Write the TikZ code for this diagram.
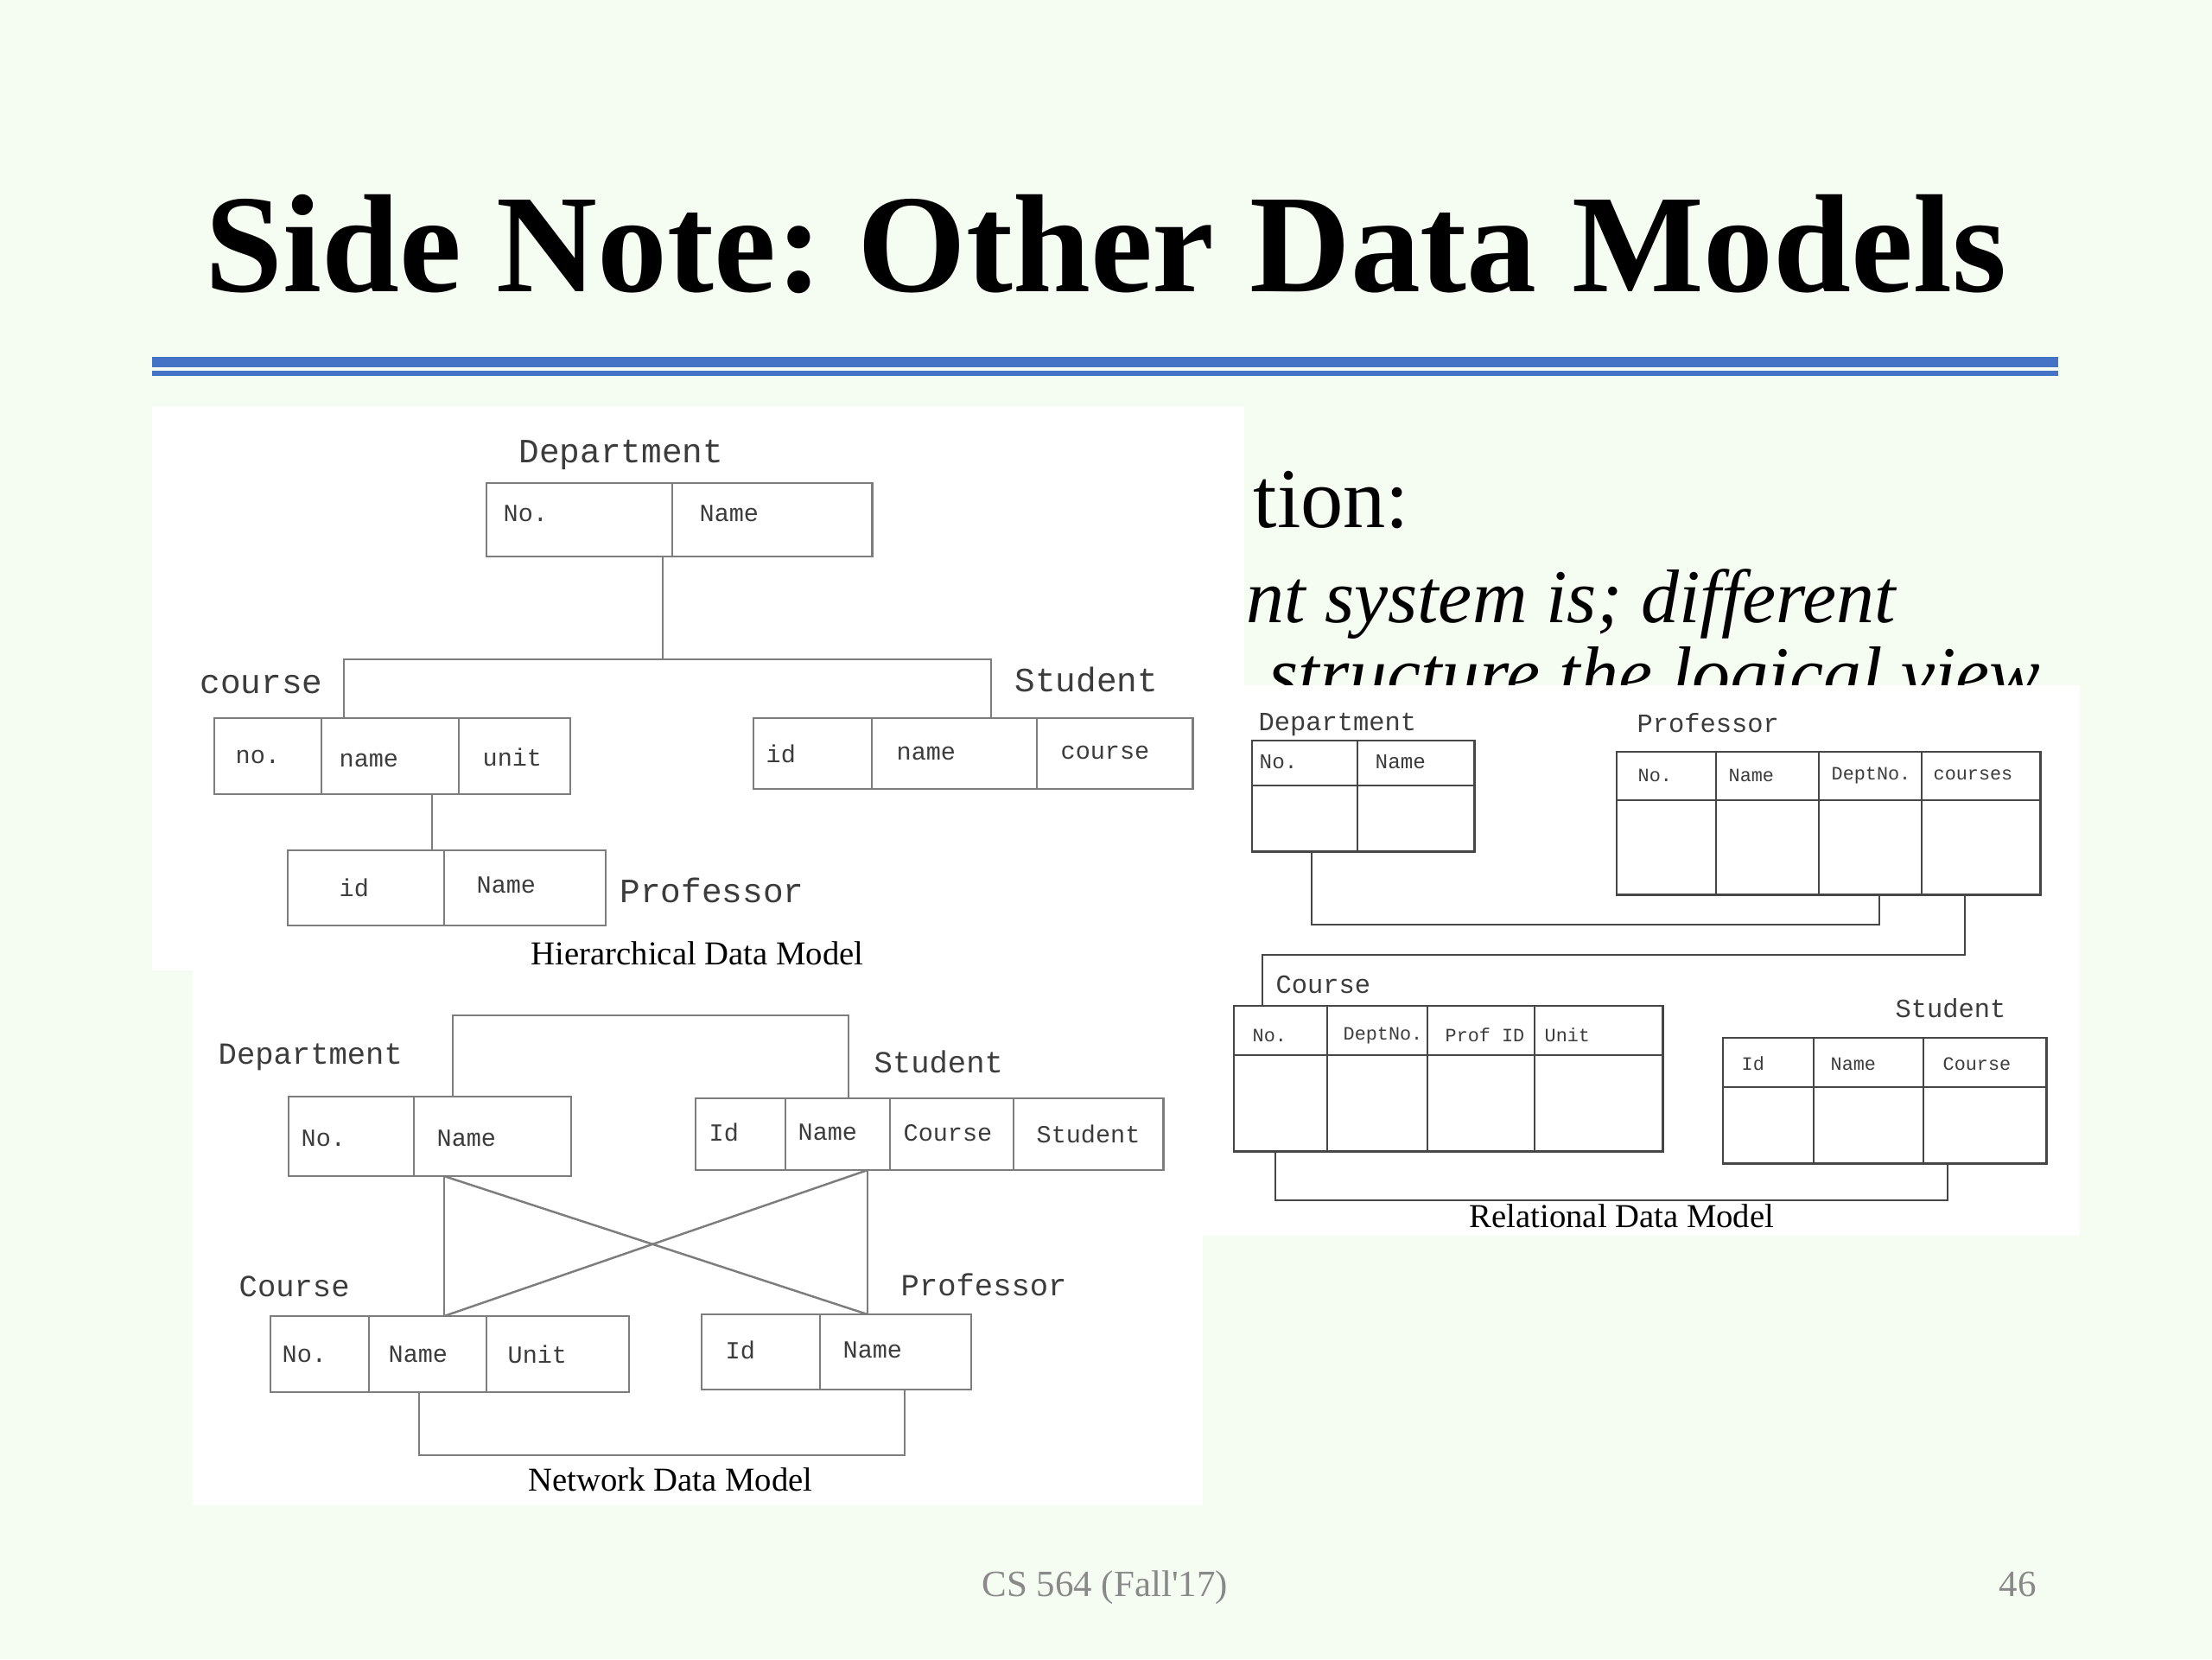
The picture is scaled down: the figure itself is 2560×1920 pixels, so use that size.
\documentclass[tikz,border=0pt]{standalone}
\usepackage{fontspec}
\setmainfont{Liberation Serif}
\newfontfamily\courier{Liberation Mono}
\usepackage{tikz}
\usetikzlibrary{positioning}
\frenchspacing

\definecolor{slidebg}{RGB}{245,252,241}
\definecolor{ruleblue}{RGB}{68,114,196}
\definecolor{boxgray}{RGB}{125,125,125}
\definecolor{reldark}{RGB}{70,70,70}
\definecolor{inkgray}{RGB}{60,60,60}
\definecolor{footgray}{RGB}{137,137,137}

\tikzset{
  tbl/.style={draw=boxgray, line width=0.7pt, rectangle, inner sep=0pt, outer sep=0pt, anchor=north west},
  rtbl/.style={tbl, draw=reldark, line width=0.8pt},
  conn/.style={draw=boxgray, line width=0.7pt},
  rconn/.style={draw=reldark, line width=0.8pt},
  txt/.style={inner sep=0pt, text=inkgray},
  hlbl/.style={txt, anchor=base west, font=\courier\fontsize{11.2}{13}\selectfont},
  hcell/.style={txt, anchor=west, font=\courier\fontsize{8.1}{10}\selectfont},
  nlbl/.style={hlbl, font=\courier\fontsize{10.1}{12}\selectfont},
  rlbl/.style={hlbl, font=\courier\fontsize{8.65}{10}\selectfont},
  rcell/.style={hcell, font=\courier\fontsize{6.2}{8}\selectfont},
  modelcap/.style={inner sep=0pt, anchor=base, font=\fontsize{11}{13}\selectfont},
  slidetxt/.style={inner sep=0pt, anchor=base west},
}

\begin{document}
\begin{tikzpicture}[x=0.01cm, y=-0.01cm]
\fill[slidebg] (0,0) rectangle (2560,1920);
\useasboundingbox (0,0) rectangle (2560,1920);

% title and rule
\node[inner sep=0pt, anchor=base, font=\bfseries\fontsize{46}{50}\selectfont] (title) at (1280,337) {Side Note: Other Data Models};
\fill[ruleblue] (176,413) rectangle (2382,425);
\fill[ruleblue] (176,429) rectangle (2382,435);

% slide text behind the pictures
\node[slidetxt, font=\fontsize{28}{32}\selectfont] (bodyone) at (1450,610) {tion:};
\node[slidetxt, font=\itshape\fontsize{25}{28}\selectfont] (bodytwo) at (1442,720) {nt system is; different};
\begin{scope}
\clip (1392,730) rectangle (2407,793);
\node[slidetxt, font=\itshape\fontsize{25}{28}\selectfont] (bodythree) at (1468,809) {structure the logical view};
\end{scope}

% footer
\node[slidetxt, text=footgray, font=\fontsize{12.2}{14}\selectfont] (course) at (1136,1847) {CS 564 (Fall\textquotesingle17)};
\node[slidetxt, text=footgray, font=\fontsize{12.2}{14}\selectfont] (pageno) at (2313,1847) {46};

% white panels
\fill[white] (176,470) rectangle (1440,1123);
\fill[white] (223,1123) rectangle (1392,1742);
\fill[white] (1392,793) rectangle (2407,1430);

% hierarchical model
\node[tbl, minimum width=4.46cm, minimum height=0.85cm] (hdept) at (563,559) {};
\node[tbl, minimum width=4.12cm, minimum height=0.88cm] (hcourse) at (248,831) {};
\node[tbl, minimum width=5.08cm, minimum height=0.82cm] (hstud) at (872,831) {};
\node[tbl, minimum width=3.68cm, minimum height=0.87cm] (hprof) at (333,984) {};
\draw[conn] (778,559) -- (778,643);
\draw[conn] (372,831) -- (372,919);
\draw[conn] (531,831) -- (531,919);
\draw[conn] (1009,831) -- (1009,913);
\draw[conn] (1200,831) -- (1200,913);
\draw[conn] (514,984) -- (514,1071);

\coordinate (hj) at (767,763);
\coordinate (hl) at (398,763);
\coordinate (hr) at (1147,763);
\coordinate (hc) at (500,950);
\draw[conn] (hdept.south -| hj) -- (hj);
\draw[conn] (hcourse.north -| hl) -- (hl) -- (hr) -- (hstud.north -| hr);
\draw[conn] (hcourse.south -| hc) -- (hprof.north -| hc);

\node[hlbl] (hdeptlbl) at (600,535) {Department};
\node[hlbl] (hcourselbl) at (231,802) {course};
\node[hlbl] (hstudlbl) at (1174,800) {Student};
\node[hlbl] (hproflbl) at (717,1044) {Professor};

\node[hcell] (hdno) at (582,594) {No.};
\node[hcell] (hdname) at (809,594) {Name};
\node[hcell] (hcno) at (272,876) {no.};
\node[hcell] (hcname) at (392,880) {name};
\node[hcell] (hcunit) at (558,876) {unit};
\node[hcell] (hsid) at (886,872) {id};
\node[hcell] (hsname) at (1037,872) {name};
\node[hcell] (hscourse) at (1227,871) {course};
\node[hcell] (hpid) at (392,1027) {id};
\node[hcell] (hpname) at (551,1024) {Name};
\node[modelcap] (hcap) at (807,1116) {Hierarchical Data Model};

% network model
\node[tbl, minimum width=3.27cm, minimum height=0.92cm] (ndept) at (334,1269) {};
\node[tbl, minimum width=5.41cm, minimum height=0.83cm] (nstud) at (805,1271) {};
\node[tbl, minimum width=4.15cm, minimum height=0.88cm] (ncourse) at (313,1523) {};
\node[tbl, minimum width=3.12cm, minimum height=0.87cm] (nprof) at (812,1521) {};
\draw[conn] (479,1269) -- (479,1361);
\draw[conn] (909,1271) -- (909,1354);
\draw[conn] (1030,1271) -- (1030,1354);
\draw[conn] (1173,1271) -- (1173,1354);
\draw[conn] (427,1523) -- (427,1611);
\draw[conn] (563,1523) -- (563,1611);
\draw[conn] (949,1521) -- (949,1608);

\coordinate (nt1) at (524,1175);
\coordinate (nt2) at (982,1175);
\coordinate (nxl) at (514,1440);
\coordinate (nxr) at (1004,1440);
\coordinate (nb1) at (485,1684);
\coordinate (nb2) at (1047,1684);
\draw[conn] (ndept.north -| nt1) -- (nt1) -- (nt2) -- (nstud.north -| nt2);
\draw[conn] (ndept.south -| nxl) -- (ncourse.north -| nxl);
\draw[conn] (nstud.south -| nxr) -- (nprof.north -| nxr);
\draw[conn] (ndept.south -| nxl) -- (nprof.north -| nxr);
\draw[conn] (nstud.south -| nxr) -- (ncourse.north -| nxl);
\draw[conn] (ncourse.south -| nb1) -- (nb1) -- (nb2) -- (nprof.south -| nb2);

\node[nlbl] (ndeptlbl) at (252,1231) {Department};
\node[nlbl] (nstudlbl) at (1011,1241) {Student};
\node[nlbl] (ncourselbl) at (276,1500) {Course};
\node[nlbl] (nproflbl) at (1042,1499) {Professor};

\node[hcell] (ndno) at (348,1317) {No.};
\node[hcell] (ndname) at (505,1317) {Name};
\node[hcell] (nsid) at (820,1310) {Id};
\node[hcell] (nsname) at (923,1310) {Name};
\node[hcell] (nscourse) at (1045,1311) {Course};
\node[hcell] (nsstud) at (1199,1312) {Student};
\node[hcell] (ncno) at (326,1567) {No.};
\node[hcell] (ncname) at (449,1567) {Name};
\node[hcell] (ncunit) at (587,1567) {Unit};
\node[hcell] (npid) at (839,1562) {Id};
\node[hcell] (npname) at (975,1562) {Name};
\node[modelcap] (ncap) at (776,1725) {Network Data Model};

% relational model
\node[rtbl, minimum width=2.57cm, minimum height=1.28cm] (rdept) at (1449,857) {};
\node[rtbl, minimum width=4.90cm, minimum height=1.65cm] (rprof) at (1871,870) {};
\node[rtbl, minimum width=4.96cm, minimum height=1.68cm] (rcourse) at (1428,1164) {};
\node[rtbl, minimum width=3.74cm, minimum height=1.45cm] (rstud) at (1994,1201) {};
\draw[rconn] (1449,909) -- (1706,909);
\draw[rconn] (1571,857) -- (1571,985);
\draw[rconn] (1871,926) -- (2361,926);
\draw[rconn] (1986,870) -- (1986,1035);
\draw[rconn] (2105,870) -- (2105,1035);
\draw[rconn] (2224,870) -- (2224,1035);
\draw[rconn] (1428,1221) -- (1924,1221);
\draw[rconn] (1536,1164) -- (1536,1332);
\draw[rconn] (1652,1164) -- (1652,1332);
\draw[rconn] (1776,1164) -- (1776,1332);
\draw[rconn] (1994,1258) -- (2368,1258);
\draw[rconn] (2099,1201) -- (2099,1346);
\draw[rconn] (2226,1201) -- (2226,1346);

\coordinate (ra1) at (1518,1070);
\coordinate (ra2) at (2175,1070);
\coordinate (rb1) at (2274,1105);
\coordinate (rb2) at (1461,1105);
\coordinate (rc1) at (1476,1389);
\coordinate (rc2) at (2254,1389);
\draw[rconn] (rdept.south -| ra1) -- (ra1) -- (ra2) -- (rprof.south -| ra2);
\draw[rconn] (rprof.south -| rb1) -- (rb1) -- (rb2) -- (rcourse.north -| rb2);
\draw[rconn] (rcourse.south -| rc1) -- (rc1) -- (rc2) -- (rstud.south -| rc2);

\node[rlbl] (rdeptlbl) at (1456,845) {Department};
\node[rlbl] (rproflbl) at (1894,847) {Professor};
\node[rlbl] (rcourselbl) at (1476,1149) {Course};
\node[rlbl] (rstudlbl) at (2193,1177) {Student};

\node[rcell, font=\courier\fontsize{6.9}{8}\selectfont] (rdno) at (1457,882) {No.};
\node[rcell, font=\courier\fontsize{6.9}{8}\selectfont] (rdname) at (1591,882) {Name};
\node[rcell] (rpno) at (1895,897) {No.};
\node[rcell] (rpname) at (2000,897) {Name};
\node[rcell] (rpdept) at (2119,897) {DeptNo.};
\node[rcell] (rpcourses) at (2237,897) {courses};
\node[rcell] (rcno) at (1449,1198) {No.};
\node[rcell] (rcdept) at (1554,1198) {DeptNo.};
\node[rcell] (rcprof) at (1672,1198) {Prof ID};
\node[rcell] (rcunit) at (1787,1198) {Unit};
\node[rcell] (rsid) at (2015,1231) {Id};
\node[rcell] (rsname) at (2118,1231) {Name};
\node[rcell] (rscourse) at (2248,1231) {Course};
\node[modelcap] (rcap) at (1877,1420) {Relational Data Model};
\end{tikzpicture}
\end{document}
